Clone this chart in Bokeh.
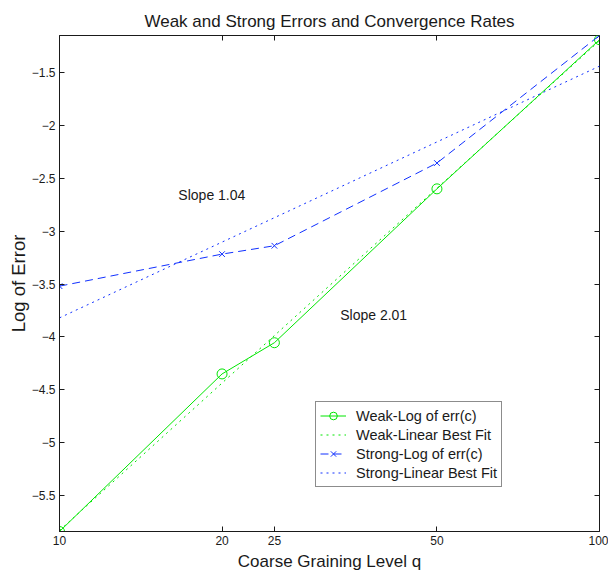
from bokeh.plotting import figure
from bokeh.models import Legend, LegendItem, FixedTicker, LogAxis, LinearAxis, Range1d
from bokeh.embed import file_html
from bokeh.resources import INLINE
from bokeh.core.properties import value

# ---- data ----
q = [10, 20, 25, 50, 100]
weak_err = [-5.84, -4.35, -4.055, -2.60, -1.19]
strong_err = [-3.52, -3.217, -3.138, -2.356, -1.15]
fit_q = [10, 100]
weak_fit = [-5.83, -1.20]
strong_fit = [-3.82, -1.44]

x_ticks = [10, 20, 25, 50, 100]
y_ticks = [-5.5, -5, -4.5, -4, -3.5, -3, -2.5, -2, -1.5]
y_tick_labels = ["\u22125.5", "\u22125", "\u22124.5", "\u22124", "\u22123.5", "\u22123", "\u22122.5", "\u22122", "\u22121.5"]

slope_labels = ["Slope 1.04", "Slope 2.01"]
slope_x = [16.6, 33.1]
slope_y = [-2.66, -3.79]

FONT = "Liberation Sans"
GREEN = "#00e600"
BLUE = "#1030ff"
INK = "#1a1a1a"

p = figure(width=608, height=575, x_axis_type="log",
           x_range=Range1d(10, 100), y_range=Range1d(-5.84, -1.15),
           output_backend="svg", toolbar_location=None,
           title="Weak and Strong Errors and Convergence Rates",
           min_border_left=59, min_border_right=9, min_border_top=35, min_border_bottom=44)

p.title.align = "center"
p.title.text_font = FONT
p.title.text_font_size = "17px"
p.title.text_font_style = "normal"
p.title.text_color = INK

p.xgrid.visible = False
p.ygrid.visible = False
p.outline_line_color = INK
p.outline_line_width = 1
p.background_fill_color = "white"
p.border_fill_color = "white"

# axes
for ax in [p.xaxis[0], p.yaxis[0]]:
    ax.major_tick_in = 5
    ax.major_tick_out = 0
    ax.minor_tick_in = 0
    ax.minor_tick_out = 0
    ax.axis_line_color = INK
    ax.major_tick_line_color = INK
    ax.major_label_text_font = FONT
    ax.major_label_text_font_size = "12px"
    ax.major_label_text_color = INK
    ax.axis_label_text_font = FONT
    ax.axis_label_text_font_style = "normal"
    ax.axis_label_text_color = INK

p.xaxis[0].ticker = FixedTicker(ticks=x_ticks)
p.xaxis[0].major_label_overrides = {t: str(t) for t in x_ticks}
p.xaxis[0].axis_label = "Coarse Graining Level q"
p.xaxis[0].axis_label_text_font_size = "17px"
p.xaxis[0].axis_label_standoff = 4
p.xaxis[0].major_label_standoff = 4

p.yaxis[0].ticker = FixedTicker(ticks=y_ticks)
p.yaxis[0].major_label_overrides = {t: l for t, l in zip(y_ticks, y_tick_labels)}
p.yaxis[0].axis_label = "Log of Error"
p.yaxis[0].axis_label_text_font_size = "18.5px"
p.yaxis[0].axis_label_standoff = 0
p.yaxis[0].major_label_standoff = 4

# mirrored ticks on top and right (no labels)
top = LogAxis(ticker=FixedTicker(ticks=x_ticks), major_tick_in=5, major_tick_out=0,
              minor_tick_in=0, minor_tick_out=0, axis_line_color=None,
              major_tick_line_color=INK, major_label_standoff=0,
              major_label_overrides={t: "" for t in x_ticks})
right = LinearAxis(ticker=FixedTicker(ticks=y_ticks), major_tick_in=5, major_tick_out=0,
                   minor_tick_in=0, minor_tick_out=0, axis_line_color=None,
                   major_tick_line_color=INK, major_label_standoff=0,
                   major_label_overrides={t: "" for t in y_ticks})
p.add_layout(top, "above")
p.add_layout(right, "right")

# glyphs
r_wl = p.line(q, weak_err, line_color=GREEN, line_width=1)
r_wm = p.scatter(q, weak_err, marker="circle", size=10, fill_color=None, line_color=GREEN, line_width=1)
r_wf = p.line(fit_q, weak_fit, line_color=GREEN, line_width=1, line_dash="2 4")
r_sl = p.line(q, strong_err, line_color=BLUE, line_width=1, line_dash="8 5")
r_sm = p.scatter(q, strong_err, marker="x", size=8, line_color=BLUE, line_width=1)
r_sf = p.line(fit_q, strong_fit, line_color=BLUE, line_width=1, line_dash="2 4")

p.text(x=slope_x, y=slope_y, text=slope_labels, text_font=value(FONT),
       text_font_size="14px", text_baseline="middle", text_align="left", text_color=INK)

legend = Legend(items=[
    LegendItem(label="Weak-Log of err(c)", renderers=[r_wl, r_wm]),
    LegendItem(label="Weak-Linear Best Fit", renderers=[r_wf]),
    LegendItem(label="Strong-Log of err(c)", renderers=[r_sl, r_sm]),
    LegendItem(label="Strong-Linear Best Fit", renderers=[r_sf]),
], location=(256, 44))
legend.margin = 0
legend.padding = 4
legend.spacing = 0
legend.label_height = 19
legend.glyph_height = 19
legend.glyph_width = 26
legend.label_standoff = 10
legend.label_text_font = FONT
legend.label_text_font_size = "14.5px"
legend.label_text_color = INK
legend.border_line_color = INK
legend.border_line_width = 1
legend.background_fill_color = "white"
legend.background_fill_alpha = 1
p.add_layout(legend, "center")

open("out.html", "w").write(file_html(p, INLINE))
